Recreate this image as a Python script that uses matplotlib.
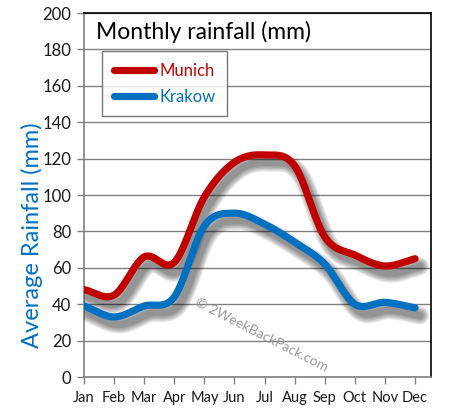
import numpy as np
import matplotlib
matplotlib.use('Agg')
import matplotlib.pyplot as plt
import matplotlib.patheffects as pe
from matplotlib.lines import Line2D

months = ['Jan', 'Feb', 'Mar', 'Apr', 'May', 'Jun', 'Jul', 'Aug', 'Sep', 'Oct', 'Nov', 'Dec']
munich = [48, 45, 66, 63, 99, 118, 122, 116, 77, 67, 61, 65]
krakow = [39, 33, 39, 44, 83, 90, 84, 74, 62, 40, 41, 38]
yticks = [0, 20, 40, 60, 80, 100, 120, 140, 160, 180, 200]

RED = '#C00000'
BLUE = '#0070C0'

plt.rcParams['font.family'] = ['Lato', 'DejaVu Sans']


def smooth(y, n=20):
    # catmull-rom through the monthly points, like a smoothed excel line
    y = np.asarray(y, dtype=float)
    x = np.arange(len(y), dtype=float)
    p = np.concatenate([[2 * y[0] - y[1]], y, [2 * y[-1] - y[-2]]])
    q = np.concatenate([[2 * x[0] - x[1]], x, [2 * x[-1] - x[-2]]])
    xs, ys = [], []
    t = np.linspace(0, 1, n, endpoint=False)
    for i in range(1, len(p) - 2):
        for arr, out in ((q, xs), (p, ys)):
            p0, p1, p2, p3 = arr[i - 1], arr[i], arr[i + 1], arr[i + 2]
            out.extend(0.5 * (2 * p1 + (-p0 + p2) * t + (2 * p0 - 5 * p1 + 4 * p2 - p3) * t ** 2
                              + (-p0 + 3 * p1 - 3 * p2 + p3) * t ** 3))
    xs.append(x[-1])
    ys.append(y[-1])
    return np.array(xs), np.array(ys)


fig = plt.figure(figsize=(4.51, 4.18), dpi=100)
ax = fig.add_axes([84 / 451, 1 - 377 / 418, 347 / 451, 364 / 418])

shadow = [pe.SimpleLineShadow(offset=(3.5, -5.5), shadow_color='k', alpha=0.1, linewidth=lw)
          for lw in (13, 11, 9, 7, 5)] + [pe.Normal()]

for vals, col in ((munich, RED), (krakow, BLUE)):
    xs, ys = smooth(vals)
    ax.plot(xs, ys, color=col, lw=5.2, solid_capstyle='round', path_effects=shadow, zorder=3)

ax.set_xlim(0, 11.53)
ax.set_ylim(0, 200)
ax.set_yticks(yticks)
ax.set_xticks(range(12))
ax.set_xticklabels(months)
ax.yaxis.grid(True, color='#808080', lw=1)
ax.set_axisbelow(True)

ax.tick_params(axis='y', colors='#808080', labelcolor='#1a1a1a', labelsize=12, length=5, width=1, pad=4)
ax.tick_params(axis='x', colors='#808080', labelcolor='#1a1a1a', labelsize=10.5, length=5, width=1, pad=5)
ax.spines['left'].set_color('#808080')
ax.spines['bottom'].set_color('#808080')
ax.spines['top'].set_color('black')
ax.spines['right'].set_color('black')
for s in ax.spines.values():
    s.set_linewidth(1.2)

ax.set_ylabel('Average Rainfall (mm)', color=BLUE, fontsize=17)
ax.yaxis.set_label_coords(-0.118, 0.39)

ax.text(0.035, 0.948, 'Monthly rainfall (mm)', transform=ax.transAxes, fontsize=16.5,
        va='center', ha='left', color='black',
        bbox=dict(facecolor='white', edgecolor='none', pad=1), zorder=4)

handles = [Line2D([], [], color=RED, lw=5.2, solid_capstyle='round'),
           Line2D([], [], color=BLUE, lw=5.2, solid_capstyle='round')]
leg = ax.legend(handles, ['Munich', 'Krakow'], loc='upper left', bbox_to_anchor=(0.052, 0.896),
                frameon=True, fancybox=False, edgecolor='#555555', fontsize=12,
                handlelength=2.4, handletextpad=0.35, borderpad=0.7, labelspacing=0.6,
                borderaxespad=0)
leg.get_frame().set_linewidth(1)
for t, c in zip(leg.get_texts(), (RED, BLUE)):
    t.set_color(c)

ax.text(5.9, 23, '\u00a9 2WeekBackPack.com', fontsize=10, color='#999999', rotation=-27,
        ha='center', va='center', zorder=2)

fig.savefig('out.png', dpi=100)
